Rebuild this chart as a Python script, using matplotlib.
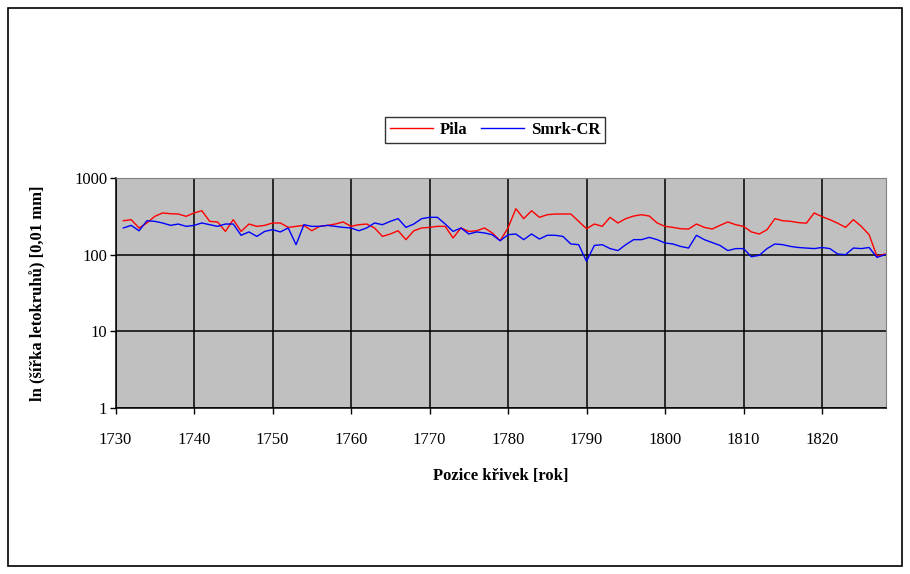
import numpy as np
import matplotlib
matplotlib.use('Agg')
import matplotlib.pyplot as plt
from matplotlib.patches import Rectangle

#########################################################################################################
#######################################   DATA                ###########################################
#########################################################################################################
years = list(range(1731, 1829))

pila = [277, 286, 223, 259, 316, 350, 342, 339, 316, 350, 374, 272, 267, 201, 286, 201,
        251, 234, 241, 259, 259, 227, 234, 241, 205, 234, 241, 251, 267, 234, 246, 251,
        223, 173, 186, 205, 157, 205, 223, 227, 234, 234, 165, 223, 201, 205, 223, 192, 152,
        223, 398, 295, 374, 307, 332, 339, 339, 339, 272, 218, 251, 234, 307, 259, 295,
        319, 332, 319, 259, 234, 227, 218, 216, 251, 227, 216, 241, 267, 246, 234, 198,
        186, 212, 295, 277, 272, 262, 257, 350, 313, 286, 257, 227, 286, 234, 182, 95, 102]

smrk_cr = [223, 241, 205, 277, 272, 259, 241, 251, 234, 241, 259, 246, 234, 251, 251, 179,
           198, 173, 201, 212, 198, 223, 135, 246, 234, 234, 241, 234, 227, 223, 205, 223,
           259, 246, 272, 295, 227, 251, 295, 307, 307, 251, 201, 223, 186, 198, 192, 182, 152,
           182, 186, 157, 186, 160, 179, 179, 173, 138, 135, 82, 132, 135, 120, 113, 135,
           157, 157, 168, 157, 142, 138, 128, 122, 179, 157, 144, 132, 113, 120, 120, 94,
           98, 120, 138, 135, 128, 124, 122, 120, 124, 120, 102, 100, 122, 120, 124, 92, 100]

x_ticks = list(range(1730, 1830, 10))
y_ticks = [1, 10, 100, 1000]
y_tick_labels = ['1', '10', '100', '1000']

#########################################################################################################
#######################################   PLOT                ###########################################
#########################################################################################################
plt.rcParams['font.family'] = ['Liberation Serif', 'DejaVu Serif']

fig = plt.figure(figsize=(9.10, 5.74), dpi=100)
ax = fig.add_axes([115.5/910, 1-408/574, (886-115.5)/910, (408-178)/574])

ax.set_facecolor('#C0C0C0')
ax.plot(years, pila, color='#FF0000', lw=1.0, label='Pila', zorder=3)
ax.plot(years, smrk_cr, color='#0000FF', lw=1.0, label='Smrk-CR', zorder=3)

ax.set_yscale('log')
ax.set_ylim(1, 1000)
ax.set_xlim(1730, 1828.15)
ax.set_yticks(y_ticks)
ax.set_yticklabels(y_tick_labels)
ax.yaxis.set_minor_locator(matplotlib.ticker.NullLocator())
ax.set_xticks(x_ticks)
ax.set_xticklabels([str(t) for t in x_ticks])
ax.tick_params(axis='both', labelsize=12, length=4, width=1, color='black')
ax.tick_params(axis='y', pad=2)
ax.tick_params(axis='x', pad=13)

ax.grid(True, color='black', lw=1.1, zorder=1)
ax.set_axisbelow(True)
for s in ['top', 'right']:
    ax.spines[s].set_color('#808080')
for s in ['left', 'bottom']:
    ax.spines[s].set_color('black')
    ax.spines[s].set_linewidth(1.1)

ax.set_xlabel('Pozice křivek [rok]', fontsize=12, fontweight='bold', labelpad=15)
ax.set_ylabel('ln (šířka letokruhů) [0,01 mm]', fontsize=12, fontweight='bold', labelpad=20)

leg = fig.legend(loc='center', bbox_to_anchor=(495/910, 1-130/574), ncol=2, frameon=True,
                 prop={'weight': 'bold', 'size': 12}, fancybox=False, edgecolor='black',
                 handlelength=2.6, handletextpad=0.4, columnspacing=0.8, borderpad=0.3)
leg.get_frame().set_linewidth(1.0)

# outer frame of the chart
fig.patches.append(Rectangle((8/910, 8/574), (902-8)/910, (566-8)/574, transform=fig.transFigure,
                             fill=False, edgecolor='black', lw=1.2))

fig.savefig('out.png', dpi=100)
